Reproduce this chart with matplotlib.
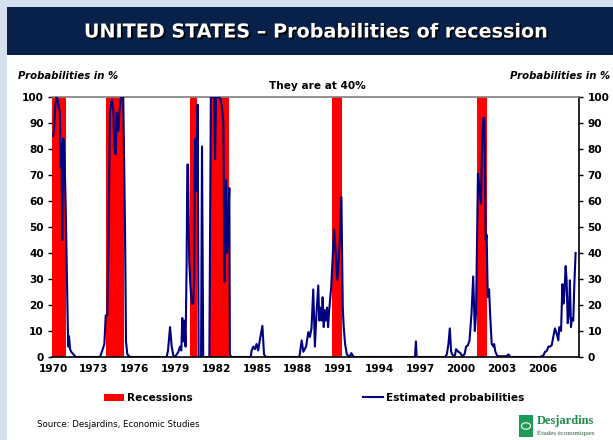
import matplotlib
matplotlib.use("Agg")
import matplotlib.pyplot as plt
from matplotlib.patches import Rectangle, Patch, Circle
from matplotlib.lines import Line2D
import matplotlib.patheffects as pe

# Estimated recession probabilities (decimal year, %)
years = [
    1970.00, 1970.08, 1970.17, 1970.25, 1970.33, 1970.42, 1970.50, 1970.56, 1970.62, 1970.67,
    1970.75, 1970.83, 1970.92, 1971.00, 1971.08, 1971.12, 1971.17, 1971.25, 1971.33, 1971.50,
    1971.67, 1973.45, 1973.65, 1973.77, 1973.87, 1973.99, 1974.06, 1974.18, 1974.31, 1974.43,
    1974.50, 1974.60, 1974.67, 1974.80, 1974.87, 1975.00, 1975.16, 1975.29, 1975.36, 1975.46,
    1975.66, 1978.35, 1978.45, 1978.60, 1978.72, 1978.84, 1978.97, 1979.09, 1979.21, 1979.33,
    1979.43, 1979.50, 1979.60, 1979.67, 1979.74, 1979.82, 1979.87, 1979.92, 1980.01, 1980.10,
    1980.20, 1980.30, 1980.37, 1980.44, 1980.52, 1980.57, 1980.63, 1980.70, 1980.88, 1980.95,
    1981.04, 1981.49, 1981.60, 1981.76, 1981.84, 1981.91, 1981.98, 1982.22, 1982.32, 1982.42,
    1982.52, 1982.60, 1982.64, 1982.72, 1982.78, 1982.84, 1982.90, 1982.96, 1983.00, 1983.10,
    1984.53, 1984.60, 1984.72, 1984.84, 1984.96, 1985.08, 1985.20, 1985.39, 1985.51, 1985.66,
    1988.11, 1988.28, 1988.40, 1988.60, 1988.77, 1988.88, 1989.00, 1989.13, 1989.25, 1989.37,
    1989.50, 1989.57, 1989.65, 1989.75, 1989.82, 1989.90, 1989.97, 1990.05, 1990.14, 1990.22,
    1990.30, 1990.45, 1990.66, 1990.78, 1990.90, 1991.05, 1991.20, 1991.30, 1991.37, 1991.47,
    1991.60, 1991.80, 1991.93, 1992.10, 1996.61, 1996.68, 1996.73, 1998.82, 1998.95, 1999.07,
    1999.17, 1999.27, 1999.39, 1999.55, 1999.63, 1999.80, 1999.95, 2000.07, 2000.25, 2000.37,
    2000.50, 2000.62, 2000.77, 2000.89, 2001.01, 2001.10, 2001.24, 2001.34, 2001.46, 2001.54,
    2001.64, 2001.71, 2001.81, 2001.88, 2001.96, 2002.06, 2002.13, 2002.25, 2002.38, 2002.43,
    2002.52, 2002.67, 2003.35, 2003.48, 2003.65, 2005.80, 2006.05, 2006.17, 2006.30, 2006.42,
    2006.54, 2006.66, 2006.78, 2006.90, 2007.03, 2007.15, 2007.22, 2007.35, 2007.45, 2007.52,
    2007.59, 2007.69, 2007.76, 2007.84, 2007.93, 2008.00, 2008.08, 2008.15, 2008.25, 2008.32,
    2008.42,
]
probs = [
    85, 88, 97, 100, 99, 96, 94, 73, 82, 45,
    84, 78, 60, 35, 12, 4, 8, 3, 2, 1,
    0, 0, 3, 5, 16, 16, 42, 94, 99, 95,
    81, 78, 94, 87, 94, 100, 100, 49, 6, 1,
    0, 0, 2.5, 11.5, 4, 0.6, 0, 1, 2, 4,
    2.5, 15, 6, 14, 4, 36, 74, 74, 37, 27,
    20.5, 20.5, 29, 84, 84, 64, 97, 0, 0, 81,
    0, 0, 100, 100, 100, 76, 100, 100, 99, 96,
    90, 29, 47, 68, 40, 47, 56, 65, 1, 0,
    0, 2.5, 4, 3, 5, 2.5, 6.4, 12, 1, 0,
    0, 6.4, 2, 4, 9.6, 7.7, 11, 26, 4, 17,
    27.5, 14, 19, 14, 23, 11.5, 18, 14, 19, 11.5,
    18, 27, 49, 40, 29.5, 42, 61.5, 19, 11.5, 5,
    1, 0, 1.5, 0, 0, 6, 0, 0, 1, 5,
    11, 2, 0.6, 0.6, 3, 2, 1.5, 0.3, 1, 4,
    4.5, 6.4, 17, 31, 10, 17, 70.5, 65, 59, 81,
    92, 92, 45, 47, 23, 26, 17, 5, 4, 5,
    2, 0.3, 0.3, 1, 0, 0, 0.6, 2, 2.3, 4,
    4, 4.5, 7.7, 11, 9, 6.4, 11.5, 10, 28, 20.5,
    24, 35, 29.5, 13, 17, 29.5, 11.5, 15, 14, 27,
    40,
]

# Recession periods (start, end)
rec_start = [1969.92, 1973.88, 1980.04, 1981.54, 1990.54, 2001.17]
rec_end = [1970.92, 1975.21, 1980.58, 1982.92, 1991.21, 2001.92]

xticks = list(range(1970, 2007, 3))
yticks = list(range(0, 101, 10))

W, H = 613, 440
def fx(x):
    return x / W
def fy(y):
    return 1 - y / H

plt.rcParams['font.family'] = 'DejaVu Sans'

fig = plt.figure(figsize=(6.13, 4.40), dpi=100)
fig.patch.set_facecolor('white')

# background frame: light blue strips, white panel, navy title bar
fig.patches.append(Rectangle((0, 0), 1, 1, transform=fig.transFigure,
                             facecolor='#D4E0EE', edgecolor='none', zorder=-3))
fig.patches.append(Rectangle((fx(7), 0), 1 - fx(7), fy(7), transform=fig.transFigure,
                             facecolor='white', edgecolor='none', zorder=-2))
fig.patches.append(Rectangle((fx(7), fy(55)), 1 - fx(7), fy(7) - fy(55), transform=fig.transFigure,
                             facecolor='#08214A', edgecolor='none', zorder=-1))

fig.text(fx(316), fy(32), 'UNITED STATES \u2013 Probabilities of recession', color='white',
         fontsize=13.8, fontweight='bold', ha='center', va='center',
         path_effects=[pe.withSimplePatchShadow(offset=(1.2, -1.2), shadow_rgbFace='black', alpha=1)])

ax = fig.add_axes([fx(52), fy(357), fx(579) - fx(52), fy(97) - fy(357)])
for s, e in zip(rec_start, rec_end):
    ax.axvspan(s, e, color='#FF0000', lw=0, zorder=1)
ax.plot(years, probs, color='#000080', lw=1.5, zorder=3)

ax.set_xlim(1969.92, 2008.67)
ax.set_ylim(0, 100)
ax.set_xticks(xticks)
ax.set_xticklabels([str(t) for t in xticks])
ax.set_yticks(yticks)
ax.tick_params(axis='x', length=0, pad=5, labelsize=7.6)
ax.tick_params(axis='y', direction='out', length=3, width=1, labelsize=7.6,
               left=True, right=True, labelleft=True, labelright=True, pad=3)
for lab in ax.get_xticklabels() + ax.get_yticklabels():
    lab.set_fontweight('bold')
for lab in ax.yaxis.get_ticklabels(which='both'):
    lab.set_fontweight('bold')

ax.spines['left'].set_visible(False)
ax.spines['top'].set_color('#808080')
ax.spines['top'].set_linewidth(1.2)
ax.spines['bottom'].set_color('black')
ax.spines['bottom'].set_linewidth(1.2)
ax.spines['right'].set_color('black')
ax.spines['right'].set_linewidth(1.2)
ax.spines['bottom'].set_zorder(4)

fig.text(fx(18), fy(76), 'Probabilities in %', fontsize=7.3, fontweight='bold',
         style='italic', ha='left', va='center')
fig.text(fx(610), fy(76), 'Probabilities in %', fontsize=7.3, fontweight='bold',
         style='italic', ha='right', va='center')
fig.text(fx(317), fy(86), 'They are at 40%', fontsize=7.6, fontweight='bold',
         ha='center', va='center')

# legends
h1 = [Patch(facecolor='#FF0000', edgecolor='none')]
h2 = [Line2D([0], [0], color='#000080', lw=1.5)]
fig.legend(h1, ['Recessions'], loc='center left', bbox_to_anchor=(fx(94), fy(398)),
           frameon=False, handlelength=1.9, handleheight=0.7, handletextpad=0.35,
           prop={'weight': 'bold', 'size': 7.6})
fig.legend(h2, ['Estimated probabilities'], loc='center left', bbox_to_anchor=(fx(353), fy(398)),
           frameon=False, handlelength=1.9, handletextpad=0.35,
           prop={'weight': 'bold', 'size': 7.6})

fig.text(fx(37), fy(424), 'Source: Desjardins, Economic Studies', fontsize=6.2,
         ha='left', va='center')

# Desjardins logo
fig.patches.append(Rectangle((fx(519), fy(437)), fx(14), fy(415) - fy(437),
                             transform=fig.transFigure, facecolor='#1E9B55', edgecolor='none'))
fig.patches.append(Circle((fx(526), fy(426)), fx(4.5), transform=fig.transFigure,
                          facecolor='none', edgecolor='white', lw=0.8))
fig.text(fx(537), fy(421), 'Desjardins', fontsize=9, fontweight='bold', color='#1E8A4C',
         family='Liberation Serif', ha='left', va='center')
fig.text(fx(537), fy(433), '\u00c9tudes \u00e9conomiques', fontsize=5, color='#2A5A3A',
         family='Liberation Serif', ha='left', va='center')

fig.savefig('out.png', dpi=100)
